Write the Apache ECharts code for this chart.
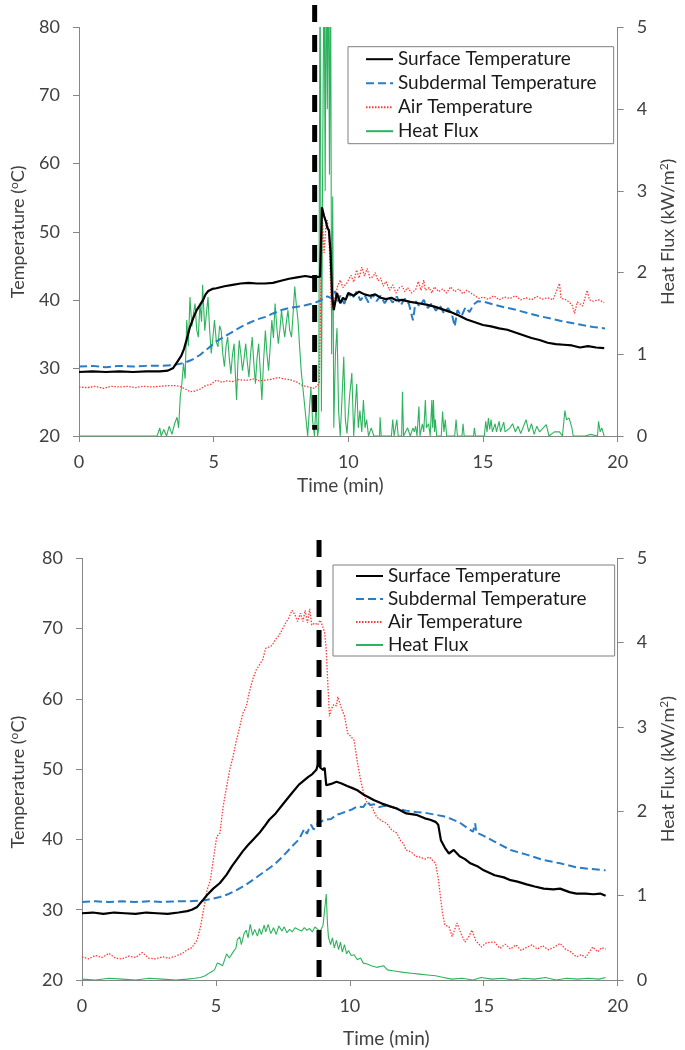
<!DOCTYPE html>
<html><head><meta charset="utf-8">
<script src="https://cdn.jsdelivr.net/npm/echarts@6/dist/echarts.min.js"></script>
<style>html,body{margin:0;padding:0;background:#fff}#c{width:685px;height:1050px}</style>
</head><body><div id="c"></div>
<script>
// ---------- axis ranges / labels ----------
const timeAxis = {min: 0, max: 20, interval: 5};
const tempAxis = {min: 20, max: 80, interval: 10};
const fluxAxis = {min: 0, max: 5, interval: 1};
const seriesNames = ['Surface Temperature', 'Subdermal Temperature', 'Air Temperature', 'Heat Flux'];
const xName = 'Time (min)';
const yLeftName = 'Temperature ({sup|o}C)';
const yRightName = 'Heat Flux (kW/m{sup|2})';

// ---------- TOP PANEL ----------
const topSurfT = [0,0.5,1,1.5,2,2.5,3,3.3,3.5,3.65,3.8,3.9,4.0,4.12,4.25,4.37,4.5,4.61,4.7,4.8,4.95,5.1,5.4,5.7,6.0,6.3,6.6,6.9,7.2,7.5,7.8,8.1,8.4,8.7,8.95,9.02,9.1,9.16,9.22,9.28,9.34,9.4,9.46,9.52,9.58,9.64,9.7,9.8,9.9,10.0,10.2,10.4,10.6,10.8,11.0,11.2,11.4,11.6,11.8,12.0,12.3,12.6,12.9,13.2,13.5,13.8,14.1,14.4,14.7,15.0,15.3,15.6,15.9,16.2,16.5,16.8,17.1,17.4,17.7,18.0,18.3,18.6,18.9,19.2,19.5];
const topSurfV = [29.4,29.5,29.4,29.5,29.4,29.5,29.5,29.6,30.0,30.9,31.8,32.8,34.2,36.0,37.4,38.5,39.3,40.0,40.8,41.3,41.6,41.7,42.0,42.2,42.4,42.5,42.4,42.4,42.5,42.8,43.1,43.3,43.5,43.3,43.4,53.6,52.3,51.6,50.6,50.2,47.0,40.5,38.5,39.8,41.0,40.2,39.5,40.3,40.0,41.0,40.6,41.2,40.8,40.6,40.8,40.3,40.1,40.3,39.9,40.0,39.7,39.5,39.3,39.0,38.6,38.2,37.7,37.1,36.7,36.3,36.1,35.8,35.6,35.2,34.8,34.4,34.1,33.7,33.5,33.4,33.3,33.0,33.2,33.0,32.9];

const topSubT = [0,0.5,1,1.5,2,2.5,3,3.5,3.88,4.2,4.49,4.8,5.1,5.4,5.7,6.0,6.31,6.6,6.92,7.2,7.52,7.8,8.13,8.4,8.74,9.0,9.22,9.4,9.5,9.6,9.7,9.85,10.0,10.15,10.3,10.45,10.6,10.75,10.9,11.05,11.2,11.35,11.5,11.65,11.8,11.95,12.1,12.25,12.4,12.5,12.65,12.8,12.95,13.1,13.25,13.4,13.55,13.7,13.85,13.95,14.05,14.2,14.35,14.5,14.65,14.8,15.05,15.4,15.8,16.26,16.7,17.1,17.47,17.9,18.3,18.69,19.1,19.53];
const topSubV = [30.2,30.3,30.1,30.3,30.2,30.3,30.3,30.4,30.7,31.2,31.9,32.9,33.9,34.6,35.3,36.0,36.6,37.1,37.5,38.0,38.5,38.8,39.0,39.2,39.5,40.0,40.5,40.2,41.3,39.8,40.6,39.4,41.0,40.2,41.2,39.9,40.7,39.6,40.8,39.8,40.6,39.5,40.4,39.6,40.5,39.2,40.2,39.4,37.0,39.8,39.0,40.0,38.8,39.5,38.4,39.2,38.0,38.8,37.8,36.1,38.5,37.6,38.9,38.2,39.3,39.8,39.7,39.3,38.9,38.5,38.0,37.6,37.3,36.9,36.6,36.3,36.0,35.8];

const topAirT = [0,0.3,0.6,0.9,1.2,1.5,1.8,2.1,2.4,2.7,3.0,3.3,3.6,3.8,4.0,4.12,4.3,4.5,4.7,4.9,5.1,5.3,5.5,5.7,5.9,6.1,6.3,6.5,6.7,6.9,7.1,7.4,7.6,7.89,8.1,8.25,8.5,8.74,8.92,8.98,9.04,9.1,9.16,9.22,9.28,9.32,9.37,9.45,9.52,9.6,9.7,9.8,9.95,10.1,10.2,10.31,10.4,10.5,10.6,10.7,10.8,10.92,11.0,11.1,11.2,11.3,11.4,11.53,11.65,11.77,11.9,12.0,12.1,12.2,12.35,12.5,12.6,12.7,12.8,12.86,13.0,13.1,13.2,13.35,13.5,13.65,13.8,13.95,14.1,14.25,14.4,14.55,14.7,14.85,15.0,15.2,15.4,15.6,15.8,16.0,16.2,16.4,16.6,16.8,17.0,17.2,17.4,17.6,17.84,17.9,18.1,18.3,18.4,18.5,18.7,18.87,18.95,19.1,19.3,19.5];
const topAirV = [27.2,27.1,27.3,27.0,27.3,27.2,27.3,27.1,27.3,27.2,27.3,27.4,27.4,27.2,26.8,26.5,26.6,26.9,27.4,27.6,28.2,27.9,28.1,28.0,28.3,28.2,28.2,28.4,28.1,28.2,28.3,28.6,28.4,28.2,27.9,27.5,27.2,27.0,27.7,42.0,51.7,46.9,50.5,51.7,49.3,45.0,38.5,39.5,40.5,42.0,42.9,41.8,42.5,43.6,42.6,44.4,43.2,44.8,43.5,44.6,43.2,43.4,44.0,42.8,43.2,42.0,42.7,41.4,42.2,41.0,41.8,42.0,41.2,41.8,41.0,41.5,42.7,41.4,42.9,41.4,41.8,41.0,41.9,41.2,41.6,41.0,41.9,41.2,41.6,40.9,41.4,41.0,40.6,40.2,40.4,40.1,40.6,40.0,40.4,40.2,40.6,40.0,40.3,40.0,40.5,40.1,40.3,40.0,42.4,40.2,40.0,39.3,38.0,39.7,39.1,41.4,40.0,39.8,40.0,39.6];

const topFluxT = [0,2.9,3.0,3.05,3.15,3.25,3.35,3.45,3.55,3.64,3.7,3.76,3.82,3.88,3.94,4.0,4.06,4.12,4.19,4.25,4.31,4.37,4.43,4.49,4.55,4.59,4.67,4.73,4.79,4.85,4.91,4.97,5.03,5.1,5.16,5.22,5.28,5.34,5.4,5.46,5.52,5.58,5.64,5.7,5.76,5.8,5.85,5.9,5.95,6.01,6.07,6.13,6.19,6.25,6.31,6.37,6.43,6.49,6.55,6.61,6.67,6.73,6.79,6.85,6.92,6.98,7.04,7.1,7.16,7.22,7.28,7.34,7.4,7.46,7.52,7.58,7.64,7.7,7.76,7.82,7.89,7.95,8.01,8.07,8.13,8.19,8.25,8.31,8.37,8.43,8.49,8.55,8.61,8.67,8.74,8.8,8.86,8.9,8.95,9.0,9.05,9.1,9.14,9.18,9.22,9.26,9.3,9.34,9.38,9.42,9.46,9.52,9.58,9.64,9.7,9.77,9.83,9.89,9.95,10.05,10.13,10.2,10.25,10.31,10.37,10.43,10.5,10.56,10.62,10.68,10.75,10.85,10.95,11.16,11.18,11.22,11.6,11.65,11.7,11.8,11.85,11.98,12.01,12.05,12.2,12.3,12.4,12.45,12.5,12.55,12.62,12.66,12.75,12.8,12.86,12.9,12.98,13.04,13.1,13.13,13.16,13.2,13.23,13.28,13.45,13.5,13.55,13.6,13.65,13.95,14.0,14.05,14.22,14.26,14.3,14.65,14.68,14.72,15.05,15.1,15.15,15.2,15.25,15.3,15.35,15.45,15.5,15.6,15.65,15.77,15.82,16.0,16.1,16.2,16.3,16.4,16.6,16.7,16.8,16.9,17.0,17.1,17.35,17.45,17.65,17.84,17.95,18.04,18.1,18.2,18.3,18.35,18.8,19.0,19.25,19.29,19.35,19.41,19.5];
const topFluxV = [0,0,0.1,0,0.08,0,0.12,0.02,0.15,0.23,0.1,0.48,0.64,0.89,0.7,1.42,1.1,1.70,1.34,1.5,1.62,1.3,1.21,1.62,1.4,1.85,1.29,1.5,1.70,1.3,1.01,1.2,1.42,1.15,1.09,1.35,1.29,1.0,0.85,1.1,1.21,0.95,0.76,1.0,1.13,0.8,0.44,0.9,1.17,1.0,0.80,0.95,1.13,0.9,0.72,1.0,1.21,0.9,0.64,0.95,1.13,0.8,0.44,0.9,1.29,1.0,0.80,1.1,1.42,1.2,1.62,1.35,1.13,1.3,1.54,1.35,1.21,1.4,1.54,1.3,1.21,1.5,1.83,1.6,1.42,1.1,0.80,0.6,0.40,0.2,0,0.3,0.60,0.2,0,0.4,0,0.1,6,0.3,3.5,6,3.0,6,4.0,6,3.2,6,1.0,2.93,0.1,1.0,1.32,0.3,0,0.5,0.97,0.2,0.03,0.5,0.77,0,0.3,0.64,0.1,0.31,0.05,0.44,0.1,0.2,0,0.1,0,0,0.23,0,0,0.2,0,0.2,0,0,0.54,0,0.1,0,0.1,0.05,0.12,0,0.36,0,0.15,0.05,0.44,0.1,0.15,0,0.44,0.1,0.44,0.05,0.2,0,0,0.3,0.05,0.2,0,0,0.2,0,0,0.15,0,0,0.1,0,0,0.18,0.05,0.22,0.08,0.2,0.05,0.15,0.05,0.18,0.05,0.17,0.05,0.1,0.15,0.05,0.12,0.03,0.2,0.05,0.15,0.02,0.12,0.05,0.14,0,0.05,0.05,0,0.31,0.2,0.22,0.1,0,0,0.02,0,0.18,0.05,0.1,0];

// ---------- BOTTOM PANEL ----------
const botSurfT = [0,0.4,0.8,1.2,1.6,2.0,2.4,2.8,3.2,3.6,3.93,4.1,4.3,4.5,4.67,4.9,5.15,5.4,5.6,5.77,6.0,6.2,6.37,6.62,6.8,6.99,7.23,7.5,7.84,8.1,8.45,8.6,8.75,8.82,8.9,9.0,9.06,9.12,9.3,9.5,9.67,9.9,10.1,10.28,10.5,10.7,10.89,11.2,11.5,11.75,12.11,12.48,12.8,13.0,13.2,13.3,13.4,13.55,13.7,13.88,14.1,14.3,14.5,14.8,15.0,15.41,15.75,16.0,16.26,16.6,16.9,17.24,17.6,17.85,18.2,18.46,18.8,19.1,19.35,19.55];
const botSurfV = [29.5,29.6,29.4,29.6,29.5,29.4,29.6,29.5,29.4,29.6,29.8,30.0,30.4,31.3,32.1,33.0,33.8,35.0,36.2,37.1,38.3,39.2,39.9,40.9,41.8,42.8,43.7,45.0,46.6,47.8,48.9,49.3,49.9,50.8,50.2,49.9,50.2,47.7,47.9,48.2,48.0,47.6,47.3,47.0,46.4,46.0,45.6,45.1,44.7,44.4,43.7,43.5,43.0,42.8,42.5,42.1,39.9,38.8,38.0,38.5,37.6,37.2,36.6,36.1,35.6,34.9,34.6,34.2,34.0,33.6,33.3,33.0,32.9,33.0,32.5,32.3,32.3,32.2,32.3,32.0];

const botSubT = [0,0.5,1,1.5,2,2.5,3,3.5,4.0,4.54,4.8,5.15,5.45,5.77,6.1,6.37,6.62,6.99,7.23,7.5,7.84,8.1,8.3,8.4,8.45,8.55,8.65,8.8,9.06,9.3,9.5,9.67,9.9,10.1,10.28,10.5,10.65,10.76,10.9,11.1,11.3,11.5,11.75,12.1,12.48,12.8,13.21,13.5,13.8,14.1,14.4,14.6,14.68,14.72,15.0,15.4,16.0,16.63,17.2,17.85,18.5,19.0,19.55];
const botSubV = [31.1,31.2,31.1,31.2,31.1,31.2,31.1,31.2,31.2,31.3,31.5,31.8,32.2,32.8,33.5,34.2,34.9,35.9,36.6,37.6,39.0,40.0,41.5,40.8,41.3,42.1,41.4,42.3,42.8,42.9,43.5,43.7,44.0,44.3,44.7,44.6,45.4,44.9,45.0,44.6,44.8,44.7,44.4,44.1,43.9,43.8,43.5,43.3,42.9,42.4,41.6,41.1,42.3,41.0,40.5,39.7,38.5,37.8,37.1,36.6,36.0,35.8,35.6];

const botAirT = [0,0.25,0.5,0.75,1.0,1.25,1.5,1.75,2.0,2.25,2.5,2.75,3.0,3.25,3.5,3.75,3.93,4.1,4.3,4.42,4.54,4.67,4.79,4.9,5.03,5.15,5.27,5.4,5.52,5.64,5.76,5.89,6.0,6.13,6.25,6.37,6.5,6.62,6.74,6.86,6.99,7.1,7.23,7.35,7.47,7.6,7.72,7.84,7.95,8.05,8.15,8.25,8.33,8.42,8.5,8.58,8.7,8.8,8.88,8.96,9.06,9.12,9.18,9.24,9.3,9.4,9.5,9.55,9.61,9.7,9.8,9.92,10.05,10.16,10.28,10.4,10.52,10.65,10.77,10.9,11.0,11.2,11.38,11.55,11.75,11.9,12.0,12.1,12.3,12.45,12.6,12.8,12.97,13.2,13.3,13.37,13.46,13.55,13.7,13.82,13.9,14.0,14.15,14.3,14.45,14.56,14.7,14.92,15.1,15.4,15.6,15.8,16.0,16.2,16.4,16.63,16.8,17.0,17.2,17.4,17.6,17.85,18.05,18.25,18.46,18.65,18.8,19.07,19.25,19.4,19.55];
const botAirV = [23.3,23.0,23.5,23.2,23.8,23.1,23.0,23.4,23.2,23.9,23.1,23.0,23.3,23.1,23.4,23.8,24.3,24.6,25.7,27.5,30.0,32.8,34.2,37.0,40.4,40.9,44.7,47.5,50.0,51.8,54.0,56.0,57.9,58.9,61.0,62.7,64.1,64.8,65.5,67.2,67.4,67.6,68.5,69.0,69.8,70.8,71.5,72.6,72.0,71.0,72.2,71.0,72.6,70.8,72.8,70.5,70.8,70.5,71.2,70.6,69.4,67.0,62.0,57.5,58.5,59.2,59.0,60.3,60.1,58.5,57.6,55.1,54.6,54.1,51.0,48.5,46.5,45.1,45.0,44.0,43.2,42.6,42.3,41.4,40.9,39.8,39.4,38.5,38.2,37.6,37.5,37.2,37.5,36.6,34.5,32.3,29.5,27.8,27.6,26.2,27.0,28.1,26.6,25.4,26.2,27.1,25.6,24.7,25.3,25.4,24.5,25.1,24.4,25.0,24.2,24.7,25.0,24.4,24.9,24.3,24.6,25.2,24.4,24.0,23.3,23.6,23.2,24.7,24.0,24.6,24.4];

const botFluxT = [0,0.5,1.0,1.5,2.0,2.5,3.0,3.5,3.93,4.2,4.42,4.6,4.79,4.95,5.05,5.15,5.25,5.4,5.5,5.64,5.75,5.8,5.89,5.95,6.05,6.13,6.2,6.28,6.37,6.45,6.55,6.62,6.7,6.8,6.86,6.95,7.05,7.15,7.25,7.35,7.47,7.55,7.65,7.75,7.85,7.95,8.08,8.2,8.3,8.4,8.5,8.6,8.7,8.8,8.9,9.0,9.06,9.12,9.16,9.2,9.28,9.35,9.42,9.5,9.58,9.65,9.72,9.8,9.88,9.95,10.05,10.16,10.28,10.4,10.5,10.65,10.8,11.0,11.26,11.4,11.6,11.8,12.0,12.3,12.6,12.9,13.2,13.5,13.8,14.2,14.6,14.9,15.3,15.7,16.1,16.5,16.9,17.3,17.7,18.1,18.5,18.9,19.3,19.55];
const botFluxV = [0.01,0.0,0.02,0.01,0.0,0.02,0.01,0.0,0.01,0.02,0.03,0.05,0.09,0.12,0.2,0.19,0.17,0.31,0.26,0.33,0.38,0.48,0.51,0.42,0.55,0.59,0.5,0.66,0.53,0.6,0.52,0.61,0.54,0.65,0.57,0.66,0.55,0.62,0.54,0.64,0.58,0.63,0.56,0.6,0.57,0.62,0.6,0.58,0.62,0.59,0.61,0.57,0.63,0.6,0.58,0.65,0.67,1.02,0.7,0.51,0.42,0.5,0.38,0.47,0.36,0.45,0.33,0.42,0.31,0.35,0.29,0.3,0.24,0.26,0.2,0.19,0.17,0.15,0.17,0.12,0.11,0.1,0.09,0.08,0.07,0.06,0.05,0.03,0.01,0.02,0.0,0.03,0.01,0.02,0.0,0.02,0.01,0.03,0.0,0.02,0.01,0.02,0.01,0.03];

// event marker (dashed vertical line) : time and vertical extent
const topEventT = 8.75, topEventY = [83.3, 20.9];
const botEventT = 8.85, botEventY = [82.6, 19.0];

// ---------- helpers ----------
const zip = (ts, vs) => ts.map((t, i) => [t, vs[i]]);
const FONT = 'Lato';
const colors = {surf: '#000000', sub: '#2a7cc4', air: '#ff3c3c', flux: '#2db35d', axis: '#868686', text: '#404040'};
const supStyle = {sup: {fontFamily: FONT, fontSize: 12, color: colors.text, verticalAlign: 'top', padding: [0, 0, 8, 0]}};

function xAxisDef(gridIndex, gap, pad) {
  return {
    type: 'value', gridIndex, ...timeAxis, name: xName, nameLocation: 'middle', nameGap: gap,
    nameTextStyle: {fontFamily: FONT, fontSize: 19, color: colors.text, padding: pad},
    axisLine: {lineStyle: {color: colors.axis, width: 1}},
    axisTick: {show: true, length: 6, lineStyle: {color: colors.axis}},
    axisLabel: {fontFamily: FONT, fontSize: 18, color: colors.text, margin: 17},
    splitLine: {show: false}
  };
}
function yLeftDef(gridIndex, gap, pad) {
  return {
    type: 'value', gridIndex, position: 'left', ...tempAxis, name: yLeftName, nameLocation: 'middle', nameGap: gap,
    nameTextStyle: {fontFamily: FONT, fontSize: 18, color: colors.text, padding: pad, rich: supStyle},
    axisLine: {show: true, lineStyle: {color: colors.axis, width: 1}},
    axisTick: {show: true, length: 6, lineStyle: {color: colors.axis}},
    axisLabel: {fontFamily: FONT, fontSize: 18, color: colors.text, margin: 19},
    splitLine: {show: false}
  };
}
function yRightDef(gridIndex, gap, pad) {
  return {
    type: 'value', gridIndex, position: 'right', ...fluxAxis, name: yRightName, nameLocation: 'middle', nameGap: gap,
    nameRotate: 90,
    nameTextStyle: {fontFamily: FONT, fontSize: 18, color: colors.text, padding: pad, rich: supStyle},
    axisLine: {show: true, lineStyle: {color: colors.axis, width: 1}},
    axisTick: {show: true, length: 6, lineStyle: {color: colors.axis}},
    axisLabel: {fontFamily: FONT, fontSize: 18, color: colors.text, margin: 19},
    splitLine: {show: false}
  };
}
function panelSeries(g, surf, sub, air, flux, evT, evY) {
  const xi = g, yl = g * 2, yr = g * 2 + 1;
  const base = {type: 'line', showSymbol: false, symbol: 'none', xAxisIndex: xi, animation: false};
  return [
    {...base, name: seriesNames[3], yAxisIndex: yr, data: flux, lineStyle: {color: colors.flux, width: 1.1}, itemStyle: {color: colors.flux}, z: 2},
    {...base, name: seriesNames[2], yAxisIndex: yl, data: air, lineStyle: {color: colors.air, width: 1.3, type: [1.5, 1.5]}, itemStyle: {color: colors.air}, z: 3},
    {...base, name: seriesNames[1], yAxisIndex: yl, data: sub, lineStyle: {color: colors.sub, width: 2, type: [8, 4]}, itemStyle: {color: colors.sub}, z: 4},
    {...base, name: seriesNames[0], yAxisIndex: yl, data: surf, lineStyle: {color: colors.surf, width: 2.2}, itemStyle: {color: colors.surf}, z: 5},
    {...base, name: 'event', yAxisIndex: yl, clip: false, silent: true, data: [[evT, evY[0]], [evT, evY[1]]],
      lineStyle: {color: '#000', width: 5, type: [17, 13]}, z: 6}
  ];
}
function legendDef(left, top, gap, pad) {
  return {
    data: seriesNames, orient: 'vertical', left, top, itemWidth: 27, itemHeight: 10, itemGap: gap,
    padding: pad, borderColor: '#7f7f7f', borderWidth: 1, backgroundColor: '#fff',
    itemStyle: {opacity: 0},
    textStyle: {fontFamily: FONT, fontSize: 19, color: '#1a1a1a'}, selectedMode: false
  };
}

const chart = echarts.init(document.getElementById('c'), null, {renderer: 'canvas'});
chart.setOption({
  animation: false,
  backgroundColor: '#fff',
  grid: [
    {left: 76.7, right: 59, top: 27.5, height: 408.5},
    {left: 79.3, right: 60, top: 558.3, height: 421.7}
  ],
  legend: [
    legendDef(348, 46.7, 5, [3, 17, 3, 17]),
    legendDef(333, 565, 4, [1.5, 28, 1.5, 22])
  ],
  xAxis: [xAxisDef(0, 40, [0, 16, 0, 0]), xAxisDef(1, 49, [0, 0, 0, 73])],
  yAxis: [yLeftDef(0, 51, [0, 0, 0, 0]), yRightDef(0, 38, [0, 0, 0, 0]), yLeftDef(1, 54, [0, 26, 0, 0]), yRightDef(1, 39, [0, 0, 0, 0])],
  series: [
    ...panelSeries(0, zip(topSurfT, topSurfV), zip(topSubT, topSubV), zip(topAirT, topAirV), zip(topFluxT, topFluxV), topEventT, topEventY),
    ...panelSeries(1, zip(botSurfT, botSurfV), zip(botSubT, botSubV), zip(botAirT, botAirV), zip(botFluxT, botFluxV), botEventT, botEventY)
  ]
});
</script></body></html>
